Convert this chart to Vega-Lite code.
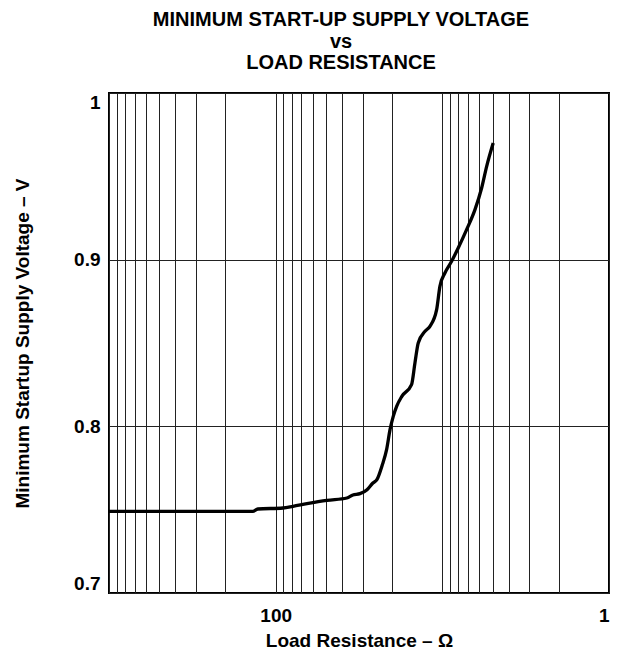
{
  "$schema": "https://vega.github.io/schema/vega-lite/v6.json",
  "width": 500,
  "height": 500,
  "autosize": "none",
  "padding": {"left": 109, "top": 93, "right": 12, "bottom": 68},
  "background": "white",
  "config": {
    "view": {"stroke": "black", "strokeWidth": 2},
    "font": "Liberation Sans"
  },
  "title": {
    "text": ["MINIMUM START-UP SUPPLY VOLTAGE", "vs", "LOAD RESISTANCE"],
    "font": "Liberation Sans",
    "fontSize": 20,
    "fontWeight": "bold",
    "lineHeight": 21.5,
    "anchor": "middle",
    "frame": "group",
    "dx": -18,
    "offset": 0,
    "baseline": "bottom",
    "color": "black"
  },
  "data": {
    "values": [
      {"R": 1000, "V": 0.749},
      {"R": 500, "V": 0.749},
      {"R": 250, "V": 0.749},
      {"R": 137, "V": 0.749},
      {"R": 128, "V": 0.7504},
      {"R": 90.4, "V": 0.751},
      {"R": 78.7, "V": 0.752},
      {"R": 64.9, "V": 0.7536},
      {"R": 49.2, "V": 0.7556},
      {"R": 37.4, "V": 0.757},
      {"R": 34.4, "V": 0.7588},
      {"R": 31.2, "V": 0.7596},
      {"R": 28.3, "V": 0.762},
      {"R": 26.1, "V": 0.766},
      {"R": 24.7, "V": 0.768},
      {"R": 23.0, "V": 0.7764},
      {"R": 21.6, "V": 0.786},
      {"R": 20.6, "V": 0.798},
      {"R": 19.7, "V": 0.806},
      {"R": 18.8, "V": 0.812},
      {"R": 17.5, "V": 0.818},
      {"R": 15.3, "V": 0.825},
      {"R": 14.6, "V": 0.838},
      {"R": 13.95, "V": 0.85},
      {"R": 12.7, "V": 0.857},
      {"R": 11.87, "V": 0.86},
      {"R": 10.82, "V": 0.87},
      {"R": 10.34, "V": 0.884},
      {"R": 9.65, "V": 0.892},
      {"R": 8.8, "V": 0.899},
      {"R": 8.03, "V": 0.907},
      {"R": 7.15, "V": 0.918},
      {"R": 6.37, "V": 0.93},
      {"R": 5.81, "V": 0.943},
      {"R": 5.42, "V": 0.956},
      {"R": 4.95, "V": 0.97}
    ]
  },
  "mark": {"type": "line", "color": "black", "strokeWidth": 3.3, "interpolate": "monotone"},
  "encoding": {
    "order": {"field": "R", "type": "quantitative", "sort": "descending"},
    "x": {
      "field": "R",
      "type": "quantitative",
      "scale": {"type": "log", "domain": [1, 1000], "reverse": true, "nice": false},
      "axis": {
        "values": [1, 2, 3, 4, 5, 6, 7, 8, 9, 10, 20, 30, 40, 50, 60, 70, 80, 90, 100, 200, 300, 400, 500, 600, 700, 800, 900, 1000],
        "grid": true,
        "gridColor": "#222222",
        "gridWidth": 1,
        "gridOpacity": 1,
        "domain": false,
        "ticks": false,
        "labelExpr": "datum.value == 100 ? '100' : datum.value == 1 ? '1' : ''",
        "labelFont": "Liberation Sans",
        "labelFontSize": 19,
        "labelFontWeight": "bold",
        "labelColor": "black",
        "labelPadding": 13,
        "labelFlush": true,
        "labelOverlap": false,
        "title": "Load Resistance – Ω",
        "titleFont": "Liberation Sans",
        "titleFontSize": 19,
        "titleFontWeight": "bold",
        "titleColor": "black",
        "titlePadding": 6
      }
    },
    "y": {
      "field": "V",
      "type": "quantitative",
      "scale": {"domain": [0.7, 1], "nice": false, "zero": false},
      "axis": {
        "values": [0.7, 0.8, 0.9, 1],
        "format": ".1~f",
        "grid": true,
        "gridColor": "#222222",
        "gridWidth": 1,
        "gridOpacity": 1,
        "domain": false,
        "ticks": false,
        "labelFont": "Liberation Sans",
        "labelFontSize": 19,
        "labelFontWeight": "bold",
        "labelColor": "black",
        "labelPadding": 9,
        "labelFlush": true,
        "labelOverlap": false,
        "title": "Minimum Startup Supply Voltage – V",
        "titleFont": "Liberation Sans",
        "titleFontSize": 19,
        "titleFontWeight": "bold",
        "titleColor": "black",
        "titlePadding": 41
      }
    }
  }
}
